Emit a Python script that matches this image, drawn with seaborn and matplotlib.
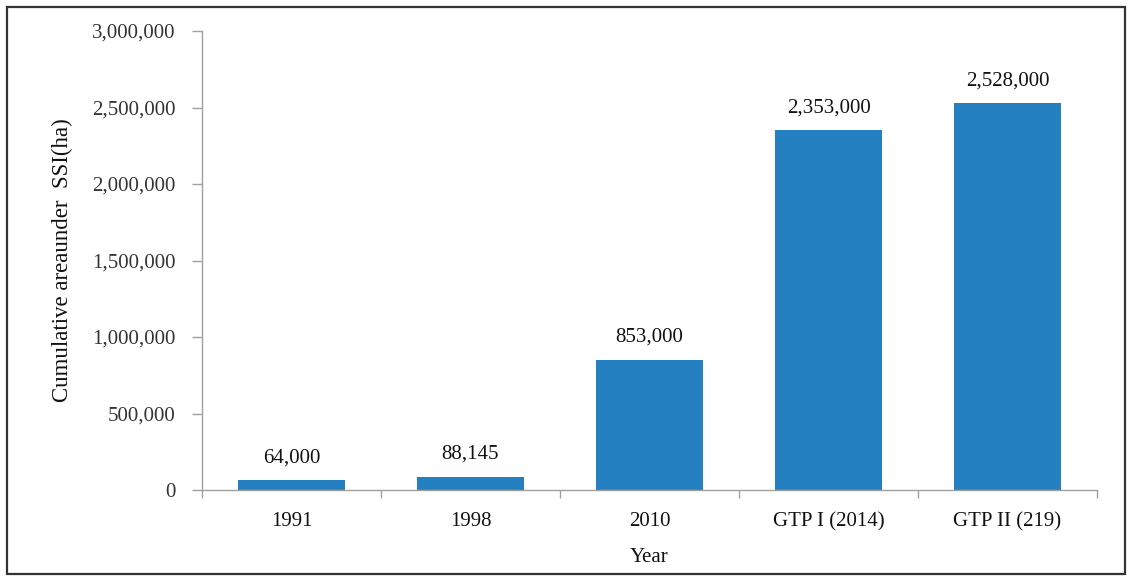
import matplotlib
matplotlib.use("Agg")
import matplotlib.pyplot as plt
import seaborn as sns
import pandas as pd
from matplotlib.patches import Rectangle
from matplotlib.ticker import FuncFormatter, FixedLocator

categories = ["1991", "1998", "2010", "GTP I (2014)", "GTP II (219)"]
values = [64000, 88145, 853000, 2353000, 2528000]
yticks = [0, 500000, 1000000, 1500000, 2000000, 2500000, 3000000]

sns.set_theme(style="white")
plt.rcParams['font.family'] = ['Liberation Serif', 'DejaVu Serif']

df = pd.DataFrame({"Year": categories, "Area": values})

fig = plt.figure(figsize=(11.36, 5.83), dpi=100)
ax = fig.add_axes([0.1778, 0.1595, 0.9657 - 0.1778, 0.9468 - 0.1595])

sns.barplot(data=df, x="Year", y="Area", color="#2580C2", width=0.6,
            saturation=1, ax=ax, edgecolor="none")

FS = 15
ax.set_ylim(0, 3000000)
ax.set_xlim(-0.5, len(categories) - 0.5)
ax.set_yticks(yticks)
ax.yaxis.set_major_formatter(FuncFormatter(lambda v, p: f"{int(v):,}"))
ax.tick_params(axis="y", which="major", direction="out", length=7, width=1,
               color="#A0A0A0", labelsize=FS, labelcolor="#333333", pad=12, left=True)
ax.tick_params(axis="x", which="major", length=0, labelsize=FS, labelcolor="#111111", pad=16)
ax.xaxis.set_minor_locator(FixedLocator([i - 0.5 for i in range(len(categories) + 1)]))
ax.tick_params(axis="x", which="minor", direction="out", length=6, width=1,
               color="#A0A0A0", bottom=True)

for s in ["top", "right"]:
    ax.spines[s].set_visible(False)
for s in ["left", "bottom"]:
    ax.spines[s].set_color("#A0A0A0")
    ax.spines[s].set_linewidth(1)

ax.bar_label(ax.containers[0], labels=[f"{v:,}" for v in values], padding=9,
             fontsize=FS, color="#111111")

ax.set_xlabel("Year", fontsize=FS, color="#111111", labelpad=12)
ax.set_ylabel("Cumulative areaunder  SSI(ha)", fontsize=16.5, color="#111111", labelpad=14)

fig.patches.append(Rectangle((7 / 1136, 1 - 574 / 583), (1125 - 7) / 1136, (574 - 7) / 583,
                             transform=fig.transFigure, fill=False,
                             edgecolor="#333333", linewidth=1.6))

fig.savefig("out.png", dpi=100)
